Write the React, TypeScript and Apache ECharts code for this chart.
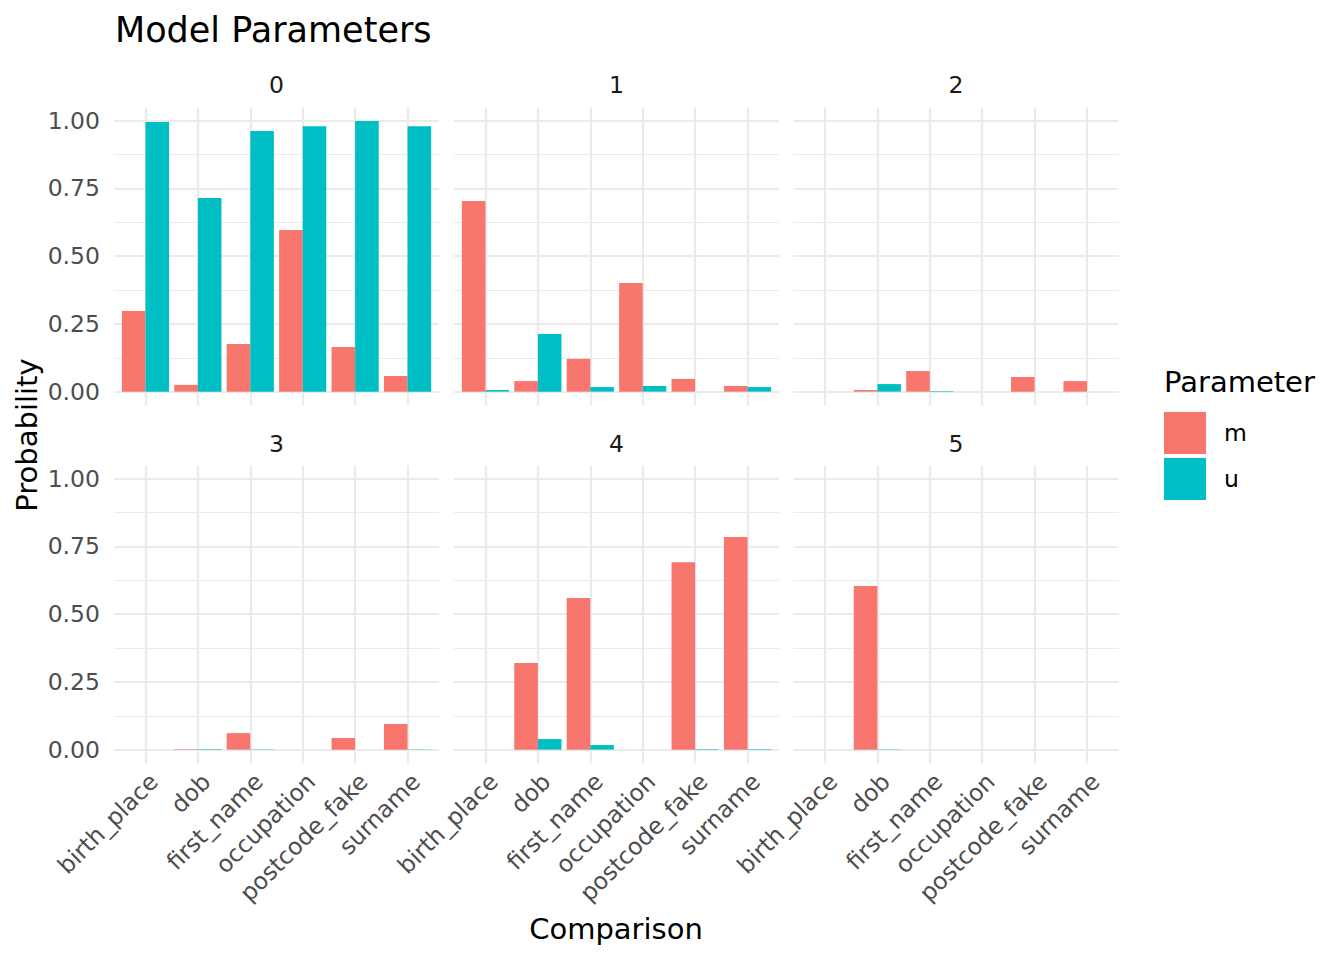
import { useEffect, useRef } from "react";
import * as echarts from "echarts";

// comparison columns (x axis of every panel)
const categories = [
  "birth_place",
  "dob",
  "first_name",
  "occupation",
  "postcode_fake",
  "surname",
];

// comparison levels, one facet each
const levels = ["0", "1", "2", "3", "4", "5"];

const parameters = ["m", "u"];

// m probabilities per level
const mLevel0 = [0.298, 0.025, 0.176, 0.597, 0.165, 0.058];
const mLevel1 = [0.704, 0.039, 0.121, 0.401, 0.047, 0.021];
const mLevel2 = [0, 0.006, 0.076, 0, 0.054, 0.039];
const mLevel3 = [0, 0.002, 0.061, 0, 0.043, 0.095];
const mLevel4 = [0, 0.32, 0.56, 0, 0.692, 0.785];
const mLevel5 = [0, 0.604, 0, 0, 0, 0];

// u probabilities per level
const uLevel0 = [0.995, 0.715, 0.962, 0.98, 0.999, 0.98];
const uLevel1 = [0.006, 0.213, 0.017, 0.021, 0, 0.017];
const uLevel2 = [0, 0.028, 0.002, 0, 0, 0];
const uLevel3 = [0, 0.002, 0.001, 0, 0, 0.001];
const uLevel4 = [0, 0.039, 0.017, 0, 0.002, 0.002];
const uLevel5 = [0, 0.001, 0, 0, 0, 0];

const mValues = [mLevel0, mLevel1, mLevel2, mLevel3, mLevel4, mLevel5];
const uValues = [uLevel0, uLevel1, uLevel2, uLevel3, uLevel4, uLevel5];

const COLORS: Record<string, string> = { m: "#F8766D", u: "#00BFC4" };
const GRID_COLOR = "#EBEBEB";
const FONT = "DejaVu Sans";

// panel placement (px)
const PANEL_LEFT = [114, 454, 793.5];
const PANEL_TOP = [107.2, 465.2];
const PANEL_W = 325;
const PANEL_H = 298;

export default function App() {
  const chartRef = useRef<HTMLDivElement>(null);

  useEffect(() => {
    if (!chartRef.current) return;
    const chart = echarts.init(chartRef.current, undefined, { renderer: "svg" });

    const grids: any[] = [];
    const xAxes: any[] = [];
    const yAxes: any[] = [];
    const series: any[] = [];
    const graphics: any[] = [];

    levels.forEach((level, p) => {
      const col = p % 3;
      const row = Math.floor(p / 3);
      const left = PANEL_LEFT[col];
      const top = PANEL_TOP[row];

      grids.push({ left, top, width: PANEL_W, height: PANEL_H, containLabel: false });

      xAxes.push({
        type: "value",
        gridIndex: p,
        min: 0.4,
        max: 6.6,
        minInterval: 1,
        maxInterval: 1,
        axisLine: { show: false },
        axisTick: { show: false },
        axisLabel: {
          show: row === 1,
          rotate: 45,
          align: "right",
          verticalAlign: "top",
          margin: 6,
          fontSize: 23.5,
          fontFamily: FONT,
          color: "#4D4D4D",
          showMinLabel: false,
          showMaxLabel: false,
          formatter: (v: number) =>
            Number.isInteger(v) ? categories[v - 1] ?? "" : "",
        },
        splitLine: {
          show: true,
          showMinLine: false,
          showMaxLine: false,
          lineStyle: { color: GRID_COLOR, width: 2.2 },
        },
      });

      // major y axis: labels + thick grid lines
      yAxes.push({
        type: "value",
        gridIndex: p,
        min: -0.05,
        max: 1.05,
        minInterval: 0.25,
        maxInterval: 0.25,
        axisLine: { show: false },
        axisTick: { show: false },
        axisLabel: {
          show: col === 0,
          margin: 14,
          fontSize: 23.5,
          fontFamily: FONT,
          color: "#4D4D4D",
          showMinLabel: false,
          showMaxLabel: false,
          formatter: (v: number) => v.toFixed(2),
        },
        splitLine: {
          show: true,
          showMinLine: false,
          showMaxLine: false,
          lineStyle: { color: GRID_COLOR, width: 2.2 },
        },
      });

      // minor y axis: thin grid lines only
      yAxes.push({
        type: "value",
        gridIndex: p,
        min: -0.05,
        max: 1.05,
        minInterval: 0.125,
        maxInterval: 0.125,
        axisLine: { show: false },
        axisTick: { show: false },
        axisLabel: { show: false },
        splitLine: {
          show: true,
          showMinLine: false,
          showMaxLine: false,
          lineStyle: { color: GRID_COLOR, width: 1.1 },
        },
      });

      parameters.forEach((param) => {
        const vals = param === "m" ? mValues[p] : uValues[p];
        series.push({
          name: param,
          type: "bar",
          xAxisIndex: p,
          yAxisIndex: p * 2,
          barGap: "0%",
          barCategoryGap: "10%",
          itemStyle: { color: COLORS[param] },
          data: categories.map((_, i) => [i + 1, vals[i]]),
        });
      });

      // facet strip label
      graphics.push({
        type: "text",
        x: left + PANEL_W / 2,
        y: row === 0 ? 85 : 444,
        style: {
          text: level,
          fontSize: 23.5,
          fontFamily: FONT,
          fill: "#1A1A1A",
          align: "center",
          verticalAlign: "middle",
        },
      });
    });

    graphics.push(
      {
        type: "text",
        x: 115,
        y: 29.5,
        style: {
          text: "Model Parameters",
          fontSize: 35,
          fontFamily: FONT,
          fill: "#000",
          align: "left",
          verticalAlign: "middle",
        },
      },
      {
        type: "text",
        x: 616,
        y: 929,
        style: {
          text: "Comparison",
          fontSize: 29,
          fontFamily: FONT,
          fill: "#000",
          align: "center",
          verticalAlign: "middle",
        },
      },
      {
        type: "text",
        x: 27,
        y: 435,
        rotation: Math.PI / 2,
        style: {
          text: "Probability",
          fontSize: 29,
          fontFamily: FONT,
          fill: "#000",
          align: "center",
          verticalAlign: "middle",
        },
      },
      {
        type: "text",
        x: 1164,
        y: 382,
        style: {
          text: "Parameter",
          fontSize: 29,
          fontFamily: FONT,
          fill: "#000",
          align: "left",
          verticalAlign: "middle",
        },
      }
    );

    chart.setOption({
      animation: false,
      backgroundColor: "#FFFFFF",
      textStyle: { fontFamily: FONT },
      legend: {
        data: parameters,
        orient: "vertical",
        left: 1164,
        top: 412,
        padding: 0,
        itemWidth: 42,
        itemHeight: 42,
        itemGap: 4,
        icon: "rect",
        selectedMode: false,
        textStyle: {
          fontSize: 23.5,
          fontFamily: FONT,
          color: "#000",
          padding: [0, 0, 0, 13],
        },
      },
      grid: grids,
      xAxis: xAxes,
      yAxis: yAxes,
      series,
      graphic: graphics,
    });

    return () => {
      chart.dispose();
    };
  }, []);

  return (
    <div
      ref={chartRef}
      style={{ position: "absolute", left: 0, top: 0, width: 1344, height: 960 }}
    />
  );
}
